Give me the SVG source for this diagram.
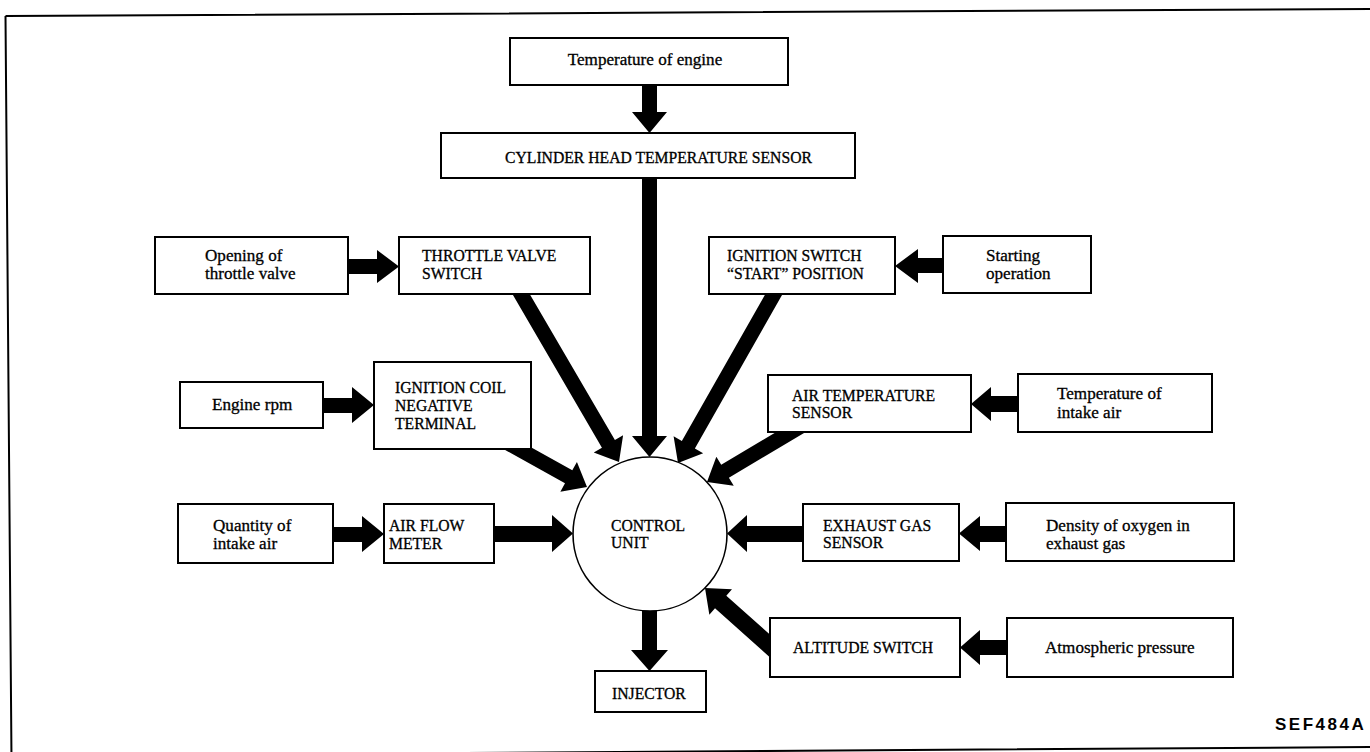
<svg xmlns="http://www.w3.org/2000/svg" width="1370" height="752" viewBox="0 0 1370 752">
<style>
.box{fill:#fff;stroke:#000;stroke-width:2}
.circ{fill:#fff;stroke:#000;stroke-width:1.6}
.t{font-family:"Liberation Serif","Times New Roman",serif;font-size:15.7px;fill:#000;stroke:#000;stroke-width:0.3}
.tl{font-family:"Liberation Serif","Times New Roman",serif;font-size:17.1px;fill:#000;stroke:#000;stroke-width:0.3}
.arr{fill:#000;stroke:none}
.frame{fill:none;stroke:#000;stroke-width:2}
.code{font-family:"Liberation Sans",Arial,sans-serif;font-size:17px;font-weight:bold;letter-spacing:2.5px;fill:#000}
</style>
<rect x="0" y="0" width="1370" height="752" fill="#fff"/>
<path class="frame" d="M5.5,16 L1372,9 M5.5,16 L11.5,760 M11.5,756 L1372,747"/>

<g id="connectors">
  <polygon class="arr" points="642,84 657,84 657,112 667,112 649.5,133 632,112 642,112"/>
  <polygon class="arr" points="642,177 657,177 657,436 667,436 649.5,457 632,436 642,436"/>
  <polygon class="arr" points="642,600 657,600 657,650 668,650 649.5,671 631,650 642,650"/>
  <polygon class="arr" points="347,259 377,259 377,250 399,266.5 377,283 377,274 347,274"/>
  <polygon class="arr" points="944,258 918,258 918,249 895,266 918,283 918,273 944,273"/>
  <polygon class="arr" points="322,398 352,398 352,387 374,405 352,423 352,413 322,413"/>
  <polygon class="arr" points="1019,396 991,396 991,387 971,404 991,421 991,412 1019,412"/>
  <polygon class="arr" points="332,527 362,527 362,516 384,534 362,552 362,542 332,542"/>
  <polygon class="arr" points="493,526 552,526 552,515 573,533.5 552,552 552,542 493,542"/>
  <polygon class="arr" points="804,526 747,526 747,515 727,533.5 747,552 747,542 804,542"/>
  <polygon class="arr" points="1007,526 980,526 980,516 959,533.5 980,551 980,542 1007,542"/>
  <polygon class="arr" points="1008,640 980,640 980,630 960,647.5 980,665 980,655 1008,655"/>
  <polygon class="arr" points="504.44,280.50 601.94,447.64 593.74,452.43 619,462 623.10,435.29 614.90,440.08 517.40,272.94"/>
  <polygon class="arr" points="777.36,272.91 681.85,441.04 673.59,436.35 678,463 703.15,453.13 694.89,448.44 790.40,280.31"/>
  <polygon class="arr" points="495.87,444.81 565.00,483.33 560.37,491.63 587,487 576.93,461.93 572.30,470.23 503.17,431.71"/>
  <polygon class="arr" points="804.35,415.33 721.21,464.82 716.35,456.65 707,482 733.75,485.87 728.89,477.70 812.03,428.21"/>
  <polygon class="arr" points="790.59,652.98 726.33,595.64 731.99,589.29 705,588 709.35,614.67 715.01,608.32 779.27,665.66"/>
</g>

<g id="temp_engine"><rect class="box" x="510" y="38" width="278" height="47"/><text class="tl" x="645" y="65" text-anchor="middle">Temperature of engine</text></g>
<g id="cyl_head"><rect class="box" x="441" y="133" width="414" height="45"/><text class="t" x="505" y="162.5">CYLINDER HEAD TEMPERATURE SENSOR</text></g>
<g id="opening_throttle"><rect class="box" x="155" y="237" width="193" height="57"/><text class="tl" x="205" y="260.5">Opening of</text><text class="tl" x="205" y="278.5">throttle valve</text></g>
<g id="throttle_switch"><rect class="box" x="399" y="237" width="191" height="57"/><text class="t" x="422" y="260.5">THROTTLE VALVE</text><text class="t" x="422" y="278.5">SWITCH</text></g>
<g id="ign_switch"><rect class="box" x="709" y="237" width="186" height="57"/><text class="t" x="727" y="260.5">IGNITION SWITCH</text><text class="t" x="727" y="278.5">“START” POSITION</text></g>
<g id="starting_op"><rect class="box" x="943" y="236" width="148" height="57"/><text class="tl" x="986" y="260.5">Starting</text><text class="tl" x="986" y="278.5">operation</text></g>
<g id="engine_rpm"><rect class="box" x="180" y="382" width="143" height="46"/><text class="tl" x="212" y="409.5">Engine rpm</text></g>
<g id="ign_coil"><rect class="box" x="374" y="362" width="157" height="87"/><text class="t" x="395" y="392.5">IGNITION COIL</text><text class="t" x="395" y="410.5">NEGATIVE</text><text class="t" x="395" y="428.5">TERMINAL</text></g>
<g id="air_temp"><rect class="box" x="768" y="375" width="203" height="57"/><text class="t" x="792" y="400.5">AIR TEMPERATURE</text><text class="t" x="792" y="417.5">SENSOR</text></g>
<g id="temp_intake"><rect class="box" x="1018" y="374" width="194" height="58"/><text class="tl" x="1057" y="398.5">Temperature of</text><text class="tl" x="1057" y="417.5">intake air</text></g>
<g id="quantity"><rect class="box" x="178" y="504" width="155" height="59"/><text class="tl" x="213" y="530.5">Quantity of</text><text class="tl" x="213" y="548.5">intake air</text></g>
<g id="air_flow"><rect class="box" x="384" y="504" width="110" height="59"/><text class="t" x="389" y="530.5">AIR FLOW</text><text class="t" x="389" y="548.5">METER</text></g>
<g id="control_unit"><circle class="circ" cx="650" cy="534" r="77"/><text class="t" x="611" y="530.5">CONTROL</text><text class="t" x="611" y="547.5">UNIT</text></g>
<g id="exhaust"><rect class="box" x="803" y="504" width="156" height="57"/><text class="t" x="823" y="530.5">EXHAUST GAS</text><text class="t" x="823" y="547.5">SENSOR</text></g>
<g id="density"><rect class="box" x="1006" y="503" width="228" height="58"/><text class="tl" x="1046" y="530.5">Density of oxygen in</text><text class="tl" x="1046" y="548.5">exhaust gas</text></g>
<g id="altitude"><rect class="box" x="770" y="618" width="190" height="59"/><text class="t" x="793" y="652.5">ALTITUDE SWITCH</text></g>
<g id="atmospheric"><rect class="box" x="1007" y="618" width="226" height="59"/><text class="tl" x="1045" y="652.5">Atmospheric pressure</text></g>
<g id="injector"><rect class="box" x="595" y="671" width="111" height="41"/><text class="t" x="612" y="698.5">INJECTOR</text></g>
<text class="code" x="1275" y="730">SEF484A</text>
</svg>
